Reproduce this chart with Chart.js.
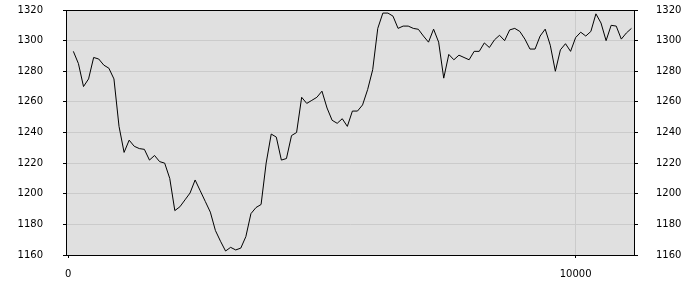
<!DOCTYPE html>
<html>
<head>
<meta charset="utf-8">
<script src="https://cdn.jsdelivr.net/npm/chart.js@4/dist/chart.umd.min.js"></script>
<style>
  body { margin: 0; background: #fff; }
  #wrap { width: 700px; height: 300px; }
</style>
</head>
<body>
<div id="wrap"><canvas id="chart" width="700" height="300"></canvas></div>
<script>
// x positions and values of the series
const xValues = [
  100, 200, 300, 400, 500, 600, 700, 800, 900, 1000,
  1100, 1200, 1300, 1400, 1500, 1600, 1700, 1800, 1900, 2000,
  2100, 2200, 2300, 2400, 2500, 2600, 2700, 2800, 2900, 3000,
  3100, 3200, 3300, 3400, 3500, 3600, 3700, 3800, 3900, 4000,
  4100, 4200, 4300, 4400, 4500, 4600, 4700, 4800, 4900, 5000,
  5100, 5200, 5300, 5400, 5500, 5600, 5700, 5800, 5900, 6000,
  6100, 6200, 6300, 6400, 6500, 6600, 6700, 6800, 6900, 7000,
  7100, 7200, 7300, 7400, 7500, 7600, 7700, 7800, 7900, 8000,
  8100, 8200, 8300, 8400, 8500, 8600, 8700, 8800, 8900, 9000,
  9100, 9200, 9300, 9400, 9500, 9600, 9700, 9800, 9900, 10000,
  10100, 10200, 10300, 10400, 10500, 10600, 10700, 10800, 10900, 11000,
  11100
];
const yValues = [
  1293, 1285, 1270, 1275, 1289, 1288, 1284, 1282, 1275, 1244,
  1227, 1235, 1231, 1229.5, 1229, 1222, 1225, 1221, 1220, 1210,
  1189, 1191.5, 1196, 1200.5, 1209, 1202, 1195, 1188, 1176, 1169,
  1162.6, 1165, 1163.3, 1164.5, 1172, 1187, 1191, 1193, 1220, 1239,
  1237, 1222, 1223, 1238, 1240, 1263, 1259, 1261, 1263, 1267,
  1256, 1248, 1246, 1249, 1244, 1254, 1254, 1258, 1268, 1281,
  1308, 1318, 1318, 1316, 1308, 1309.5, 1309.5, 1308, 1307.4, 1303,
  1299, 1307.5, 1299, 1275.5, 1291, 1287.5, 1290.5, 1289, 1287.5, 1293,
  1293, 1298.5, 1295.5, 1300.5, 1303.5, 1300, 1307, 1308, 1306, 1301,
  1294.5, 1294.5, 1303, 1307.5, 1297, 1280, 1294, 1298, 1293, 1302,
  1305.5, 1303, 1306, 1317.5, 1311.5, 1300, 1310, 1309.5, 1301, 1305,
  1308
];
const xTicks = [0, 10000];
const yTicks = [1160, 1180, 1200, 1220, 1240, 1260, 1280, 1300, 1320];

const points = xValues.map((x, i) => ({ x: x, y: yValues[i] }));

// plot background and frame
const framePlugin = {
  id: 'frame',
  beforeDraw(chart) {
    const a = chart.chartArea;
    const c = chart.ctx;
    c.save();
    c.fillStyle = '#e0e0e0';
    c.fillRect(a.left, a.top, a.right - a.left, a.bottom - a.top);
    c.restore();
  },
  afterDraw(chart) {
    const a = chart.chartArea;
    const c = chart.ctx;
    c.save();
    c.strokeStyle = '#000';
    c.lineWidth = 1;
    c.strokeRect(Math.round(a.left) + 0.5, Math.round(a.top) + 0.5,
      Math.round(a.right - a.left) - 1, Math.round(a.bottom - a.top));
    c.restore();
  }
};

const font = { family: 'DejaVu Sans', size: 10 };

function yAxis(position) {
  return {
    type: 'linear',
    position: position,
    min: 1160,
    max: 1320,
    afterBuildTicks: s => { s.ticks = yTicks.map(v => ({ value: v })); },
    afterFit: s => {
      s.width = position === 'left' ? 66 : 65;
      s.paddingTop = 0;
      s.paddingBottom = 0;
    },
    ticks: {
      font: font,
      color: '#000',
      padding: position === 'left' ? 20 : 18,
      callback: v => String(v)
    },
    grid: {
      drawOnChartArea: position === 'left',
      color: '#cbcbcb',
      tickColor: '#000',
      tickLength: 3
    },
    border: { display: false }
  };
}

new Chart(document.getElementById('chart'), {
  type: 'line',
  data: {
    datasets: [{
      data: points,
      borderColor: '#000',
      borderWidth: 1,
      pointRadius: 0,
      tension: 0,
      fill: false
    }]
  },
  options: {
    responsive: false,
    animation: false,
    layout: { padding: { top: 10, left: 0, right: 0, bottom: 0 } },
    plugins: { legend: { display: false }, tooltip: { enabled: false } },
    scales: {
      x: {
        type: 'linear',
        min: -45,
        max: 11170,
        afterBuildTicks: s => { s.ticks = xTicks.map(v => ({ value: v })); },
        afterFit: s => {
          s.height = 45;
          s.paddingLeft = 0;
          s.paddingRight = 0;
        },
        ticks: { font: font, color: '#000', padding: 10, callback: v => String(v) },
        grid: {
          color: ctx => (ctx.tick && ctx.tick.value === 10000) ? '#cbcbcb' : 'rgba(0,0,0,0)',
          tickColor: '#000',
          tickLength: 3
        },
        border: { display: false }
      },
      y: yAxis('left'),
      y2: yAxis('right')
    }
  },
  plugins: [framePlugin]
});
</script>
</body>
</html>
